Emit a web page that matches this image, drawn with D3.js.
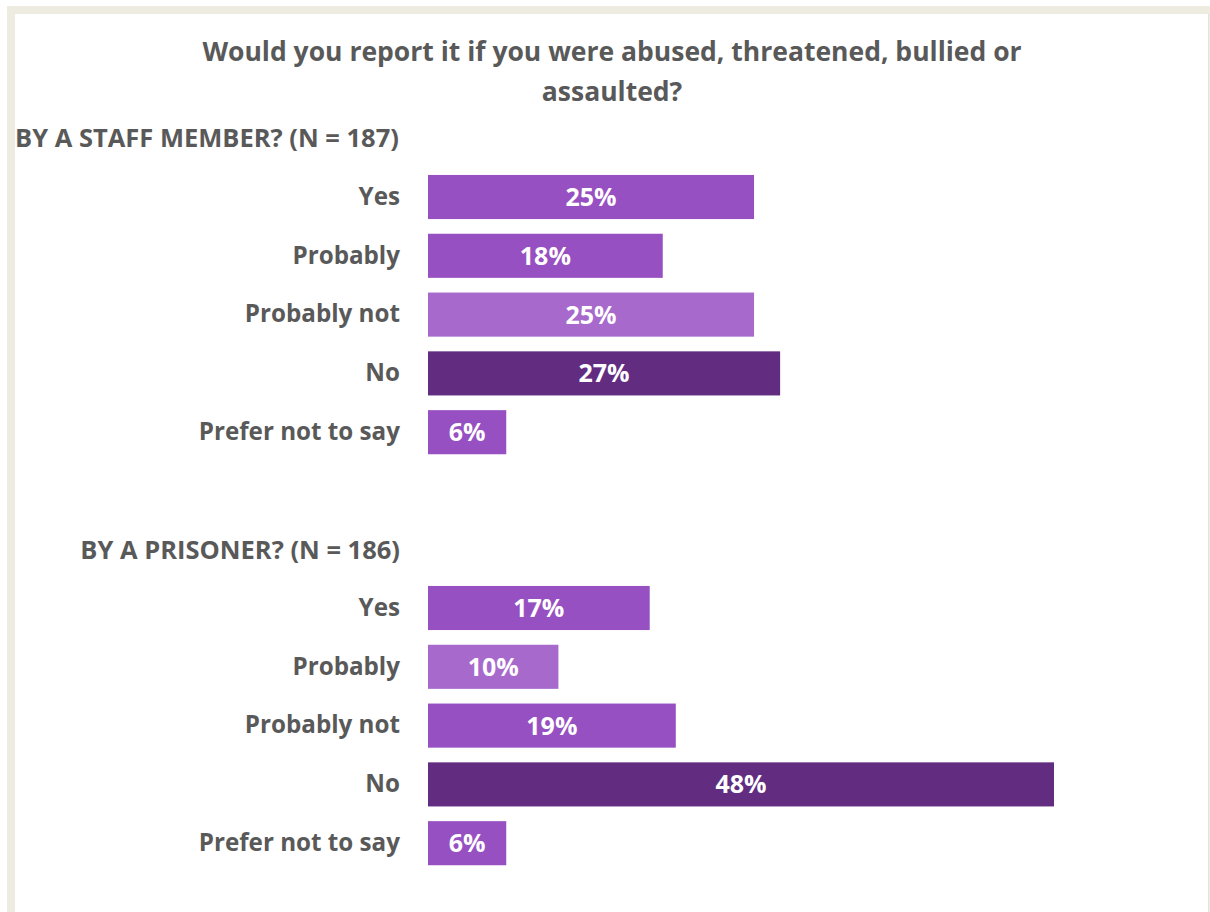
<!DOCTYPE html>
<html>
<head>
<meta charset="utf-8">
<script src="https://cdn.jsdelivr.net/npm/d3@7"></script>
<style>
  html, body { margin: 0; padding: 0; background: #ffffff; }
  svg { display: block; }
  text { font-family: "Open Sans", "Noto Sans", sans-serif; font-weight: 700; }
</style>
</head>
<body>
<svg id="chart" width="1210" height="912"></svg>
<script>
// Survey answers, one list of categories shared by both groups
const categories = ["Yes", "Probably", "Probably not", "No", "Prefer not to say"];
const staffValues = [25, 18, 25, 27, 6];
const prisonerValues = [17, 10, 19, 48, 6];
const staffTones = ["mid", "mid", "light", "dark", "mid"];
const prisonerTones = ["mid", "light", "mid", "dark", "mid"];
const groupTitles = ["BY A STAFF MEMBER? (N = 187)", "BY A PRISONER? (N = 186)"];
const titleLines = ["Would you report it if you were abused, threatened, bullied or", "assaulted?"];

const palette = { mid: "#9750C1", light: "#A76ACC", dark: "#622D81" };
const textGrey = "#595959";

const svg = d3.select("#chart");

// frame around the chart area
svg.append("rect").attr("x", 7).attr("y", 6).attr("width", 1220).attr("height", 920).attr("fill", "#EEEBE1");
svg.append("rect").attr("x", 15).attr("y", 14).attr("width", 1193).attr("height", 910).attr("fill", "#ffffff");
svg.append("line").attr("x1", 1208.5).attr("x2", 1208.5).attr("y1", 14).attr("y2", 912)
  .attr("stroke", "#E4E2DC").attr("stroke-width", 1);

// title
svg.append("g").selectAll("text").data(titleLines).join("text")
  .attr("x", 612).attr("y", (d, i) => 61 + i * 40)
  .attr("text-anchor", "middle").attr("fill", textGrey)
  .style("font-size", "26.5px").text(d => d);

const x = d3.scaleLinear().domain([0, 48]).range([428, 1054]);

const groups = [
  { title: groupTitles[0], values: staffValues, tones: staffTones, range: [167.6, 461.6], titleX: 15, titleAnchor: "start", titleY: 147 },
  { title: groupTitles[1], values: prisonerValues, tones: prisonerTones, range: [578.6, 872.6], titleX: 400, titleAnchor: "end", titleY: 559 }
];

groups.forEach(g => {
  const y = d3.scaleBand().domain(categories).range(g.range).paddingInner(0.25).paddingOuter(0.125);
  const rows = categories.map((c, i) => ({ cat: c, value: g.values[i], tone: g.tones[i] }));
  const layer = svg.append("g");

  layer.append("text")
    .attr("x", g.titleX).attr("y", g.titleY)
    .attr("text-anchor", g.titleAnchor).attr("fill", textGrey)
    .style("font-size", "25.5px").text(g.title);

  // category axis on the left, without a domain line or ticks
  const axis = layer.append("g").attr("transform", "translate(400,0)")
    .call(d3.axisLeft(y).tickSize(0).tickPadding(0));
  axis.select(".domain").remove();
  axis.selectAll("text")
    .attr("fill", textGrey)
    .style("font-size", "24.2px")
    .style("font-family", "'Open Sans', 'Noto Sans', sans-serif")
    .style("font-weight", 700);

  layer.selectAll("rect.bar").data(rows).join("rect")
    .attr("class", "bar")
    .attr("x", x(0)).attr("y", d => y(d.cat))
    .attr("width", d => x(d.value) - x(0)).attr("height", y.bandwidth())
    .attr("fill", d => palette[d.tone]);

  layer.selectAll("text.val").data(rows).join("text")
    .attr("class", "val")
    .attr("x", d => (x(0) + x(d.value)) / 2)
    .attr("y", d => y(d.cat) + y.bandwidth() / 2)
    .attr("dy", "0.36em")
    .attr("text-anchor", "middle").attr("fill", "#ffffff")
    .style("font-size", "25px").text(d => d.value + "%");
});
</script>
</body>
</html>
